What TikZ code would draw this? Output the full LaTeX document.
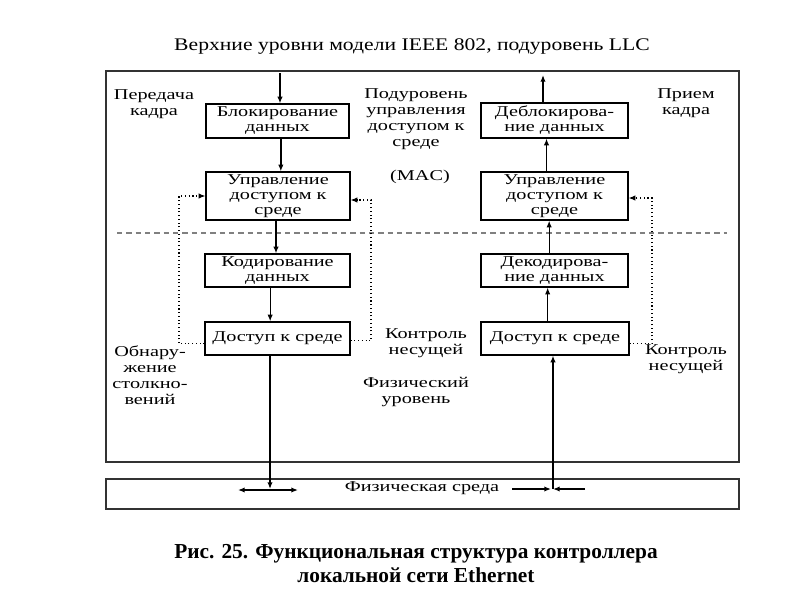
\documentclass[tikz,border=0pt]{standalone}
\usepackage{fontspec}
\setmainfont{Liberation Serif}
\newfontfamily\diagfont{Liberation Serif}[FakeStretch=1.35]
\newfontfamily\titlefont{Liberation Serif}[FakeStretch=1.22]
\usetikzlibrary{arrows.meta}
\begin{document}
\begin{tikzpicture}[x=0.75pt,y=-0.75pt,
  blk/.style={draw, line width=0.9pt, inner sep=0pt, align=center,
    font=\diagfont\fontsize{11.25}{11.25}\selectfont},
  lbl/.style={inner sep=0pt, align=center,
    font=\diagfont\fontsize{11.25}{12}\selectfont},
  conn/.style={line width=1pt, -{Latex[length=5pt,width=4pt]}},
  plainconn/.style={line width=1pt},
  fb/.style={line width=0.8pt, dotted, -{Latex[length=5pt,width=4pt]}},
  sep/.style={line width=0.8pt, dash pattern=on 4pt off 3pt, gray},
  frame/.style={line width=0.8pt, draw=black!80}]
\useasboundingbox (0,0) rectangle (800,600);

% title
\node[inner sep=0pt, font=\titlefont\fontsize{13.3}{14}\selectfont] (title) at (412,47) {Верхние уровни модели IEEE 802, подуровень LLC};

% frames
\draw[frame] (106,71) rectangle (739,462);
\node[draw, frame, minimum width=474.75pt, minimum height=22.5pt, inner sep=0pt] (medium) at (422.5,494) {};
\node[lbl] (mtext) at (422,488) {Физическая среда};

% separator
\draw[sep] (117,233) -- (727,233);

% left column
\node[blk, minimum width=107.25pt, minimum height=25.5pt] (L1) at (277.5,121) {Блокирование\\данных};
\node[blk, minimum width=108pt, minimum height=36pt] (L2) at (278,196) {Управление\\доступом к\\среде};
\node[blk, minimum width=108.75pt, minimum height=24.75pt] (L3) at (277.5,270.5) {Кодирование\\данных};
\node[blk, minimum width=108.75pt, minimum height=24.75pt] (L4) at (277.5,338.5) {Доступ к среде};

% right column
\node[blk, minimum width=110.25pt, minimum height=26.25pt] (R1) at (554.5,120.5) {Деблокирова-\\ние данных};
\node[blk, minimum width=110.25pt, minimum height=36pt] (R2) at (554.5,196) {Управление\\доступом к\\среде};
\node[blk, minimum width=110.25pt, minimum height=24.75pt] (R3) at (554.5,270.5) {Декодирова-\\ние данных};
\node[blk, minimum width=111pt, minimum height=24.75pt] (R4) at (555,338.5) {Доступ к среде};

% labels
\node[lbl] (tx) at (154,104) {Передача\\кадра};
\node[lbl] (mac) at (416,119.5) {Подуровень\\управления\\доступом к\\среде};
\node[lbl] (macab) at (420,177) {(MAC)};
\node[lbl] (rx) at (686,103.5) {Прием\\кадра};
\node[lbl] (coll) at (150,375) {Обнару-\\жение\\столкно-\\вений};
\node[lbl] (cs1) at (426,343.5) {Контроль\\несущей};
\node[lbl] (phy) at (416,392) {Физический\\уровень};
\node[lbl] (cs2) at (686,359.5) {Контроль\\несущей};

% coordinates
\coordinate (topin) at (280,73);
\coordinate (topout) at (543,75);
\coordinate (lhit) at (270,489);
\coordinate (rhit) at (553,489);
\coordinate (dA) at (238,490);
\coordinate (dB) at (298,490);
\coordinate (eA) at (512,489);
\coordinate (eB) at (585,489);
\coordinate (eM) at (551,489);
\coordinate (fl) at (179,0);
\coordinate (fm) at (371,0);
\coordinate (fr) at (652,0);

% left flow
\draw[conn] (topin) -- (topin |- L1.north);
\draw[conn] ([xshift=2.5pt]L1.south) -- ([xshift=2.5pt]L1.south |- L2.north);
\draw[conn] ([xshift=-1.5pt]L2.south) -- ([xshift=-1.5pt]L2.south |- L3.north);
\draw[conn] ([xshift=-5.5pt]L3.south) -- ([xshift=-5.5pt]L3.south |- L4.north);
\draw[conn] (lhit |- L4.south) -- (lhit);
\draw[line width=1pt, {Latex[length=5pt,width=4pt]}-{Latex[length=5pt,width=4pt]}] (dA) -- (dB);

% right flow
\draw[conn] (topout |- R1.north) -- (topout);
\draw[conn] ([xshift=-6pt]R2.north) -- ([xshift=-6pt]R2.north |- R1.south);
\draw[conn] ([xshift=-4pt]R3.north) -- ([xshift=-4pt]R3.north |- R2.south);
\draw[conn] ([xshift=-5.5pt]R4.north) -- ([xshift=-5.5pt]R4.north |- R3.south);
\draw[conn] (rhit) -- (rhit |- R4.south);
\draw[conn] (eA) -- (eM);
\draw[conn] (eB) -- (rhit);

% feedback loops (dotted)
\draw[fb] ([yshift=-4pt]L4.west) -| (fl |- L2.west) -- (L2.west);
\draw[fb] ([yshift=-1.75pt]L4.east) -| ([yshift=-3pt]fm |- L2.east) -- ([yshift=-3pt]L2.east);
\draw[fb] ([yshift=-4pt]R4.east) -| ([yshift=-1.5pt]fr |- R2.east) -- ([yshift=-1.5pt]R2.east);

% caption
\node[inner sep=0pt, align=center, font=\bfseries\fontsize{16}{17.5}\selectfont] (cap) at (416,563.5) {Рис. 25. Функциональная структура контроллера\\локальной сети Ethernet};
\end{tikzpicture}
\end{document}
